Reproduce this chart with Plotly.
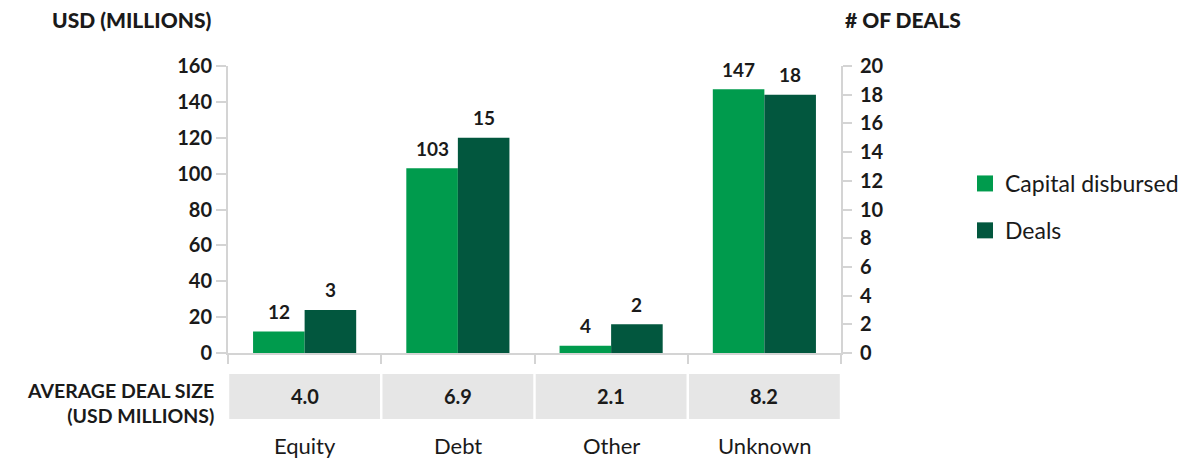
import plotly.graph_objects as go

categories = ["Equity", "Debt", "Other", "Unknown"]
capital_disbursed = [12, 103, 4, 147]
deals = [3, 15, 2, 18]
avg_deal_size = ["4.0", "6.9", "2.1", "8.2"]
left_ticks = [0, 20, 40, 60, 80, 100, 120, 140, 160]
right_ticks = [0, 2, 4, 6, 8, 10, 12, 14, 16, 18, 20]

W, H = 1190, 461
OFF = 8  # page body margin in the browser
C_LIGHT = "#009b4d"
C_DARK = "#02573e"
AXIS = "#d4d4d4"
TXT = "#1a1a1a"
FONT = "Lato"
BARGAP = 0.327
BAR_W = (1 - BARGAP) / 2

def px(x):
    return (x - OFF) / W

def py(y):
    return 1 - (y - OFF) / H

x_idx = list(range(len(categories)))

fig = go.Figure()
fig.add_trace(go.Bar(
    x=x_idx, y=capital_disbursed, name="Capital disbursed",
    marker=dict(color=C_LIGHT, line=dict(width=0)),
    offsetgroup="a", yaxis="y", showlegend=False,
))
fig.add_trace(go.Bar(
    x=x_idx, y=deals, name="Deals",
    marker=dict(color=C_DARK, line=dict(width=0)),
    offsetgroup="b", yaxis="y2", showlegend=False,
))
# legend entries (large square swatches)
for nm, col, grp in [("Capital disbursed", C_LIGHT, "a"), ("Deals", C_DARK, "b")]:
    fig.add_trace(go.Scatter(
        x=[None], y=[None], mode="markers", name=nm,
        marker=dict(symbol="square", size=20, color=col, line=dict(width=0)),
        legendgroup=grp, showlegend=True, hoverinfo="skip",
    ))

shapes = []
annotations = []
lab_font = dict(family=FONT, size=19, color=TXT, weight=700)
for i in x_idx:
    annotations.append(dict(xref="x", yref="y", x=i - BAR_W / 2, y=capital_disbursed[i],
                            text=str(capital_disbursed[i]), showarrow=False,
                            yanchor="middle", yshift=20, font=lab_font))
    annotations.append(dict(xref="x", yref="y2", x=i + BAR_W / 2, y=deals[i],
                            text=str(deals[i]), showarrow=False,
                            yanchor="middle", yshift=20, font=lab_font))

for i, v in enumerate(avg_deal_size):
    shapes.append(dict(type="rect", xref="x", yref="paper",
                       x0=i - 0.5 + 0.008, x1=i + 0.5 - 0.008,
                       y0=py(419), y1=py(374),
                       fillcolor="#e6e6e6", line=dict(width=0), layer="below"))
    annotations.append(dict(xref="x", yref="paper", x=i, y=py(396),
                            yanchor="middle", text=v, showarrow=False,
                            font=dict(family=FONT, size=20, color=TXT, weight=700)))
    annotations.append(dict(xref="x", yref="paper", x=i, y=py(445),
                            yanchor="middle", text=categories[i], showarrow=False,
                            font=dict(family=FONT, size=22, color=TXT)))

annotations.append(dict(xref="paper", yref="paper", x=px(216), y=py(403),
                        xanchor="right", yanchor="middle", align="right", showarrow=False,
                        text="AVERAGE DEAL SIZE<br>(USD MILLIONS)",
                        font=dict(family=FONT, size=19.5, color=TXT, weight=700)))
annotations.append(dict(xref="paper", yref="paper", x=px(50), y=py(20),
                        xanchor="left", yanchor="middle", showarrow=False,
                        text="USD (MILLIONS)",
                        font=dict(family=FONT, size=21, color=TXT, weight=900)))
annotations.append(dict(xref="paper", yref="paper", x=px(843), y=py(20),
                        xanchor="left", yanchor="middle", showarrow=False,
                        text="# OF DEALS",
                        font=dict(family=FONT, size=21, color=TXT, weight=900)))

tick_font = dict(family=FONT, size=20, color=TXT, weight=700)
fig.update_layout(
    width=W, height=H,
    margin=dict(l=0, r=0, t=0, b=0, pad=0, autoexpand=False),
    paper_bgcolor="white", plot_bgcolor="white",
    barmode="group", bargap=BARGAP,
    font=dict(family=FONT, color=TXT),
    shapes=shapes, annotations=annotations,
    xaxis=dict(domain=[px(228), px(841)], range=[-0.5, 3.5],
               tickmode="array", tickvals=[-0.5, 0.5, 1.5, 2.5, 3.5],
               ticktext=["", "", "", "", ""], automargin=False,
               ticks="outside", ticklen=9, tickwidth=2, tickcolor=AXIS,
               showline=True, linecolor=AXIS, linewidth=2,
               showgrid=False, zeroline=False, fixedrange=True),
    yaxis=dict(domain=[py(353), py(66)], range=[0, 160],
               tickmode="array", tickvals=left_ticks, automargin=False,
               ticks="outside", ticklen=10, tickwidth=2, tickcolor=AXIS,
               showline=True, linecolor=AXIS, linewidth=2,
               showgrid=False, zeroline=False, tickfont=tick_font),
    yaxis2=dict(overlaying="y", side="right", anchor="x", range=[0, 20],
                tickmode="array", tickvals=right_ticks, automargin=False,
                ticks="outside", ticklen=9, tickwidth=2, tickcolor=AXIS,
                showline=True, linecolor=AXIS, linewidth=2,
                showgrid=False, zeroline=False, tickfont=tick_font,
                ticklabelstandoff=4),
    legend=dict(x=px(965), y=py(162), xanchor="left", yanchor="top",
                font=dict(family=FONT, size=23, color=TXT),
                traceorder="grouped", tracegroupgap=14,
                bgcolor="rgba(0,0,0,0)"),
    showlegend=True,
)

fig.write_html("out.html")
